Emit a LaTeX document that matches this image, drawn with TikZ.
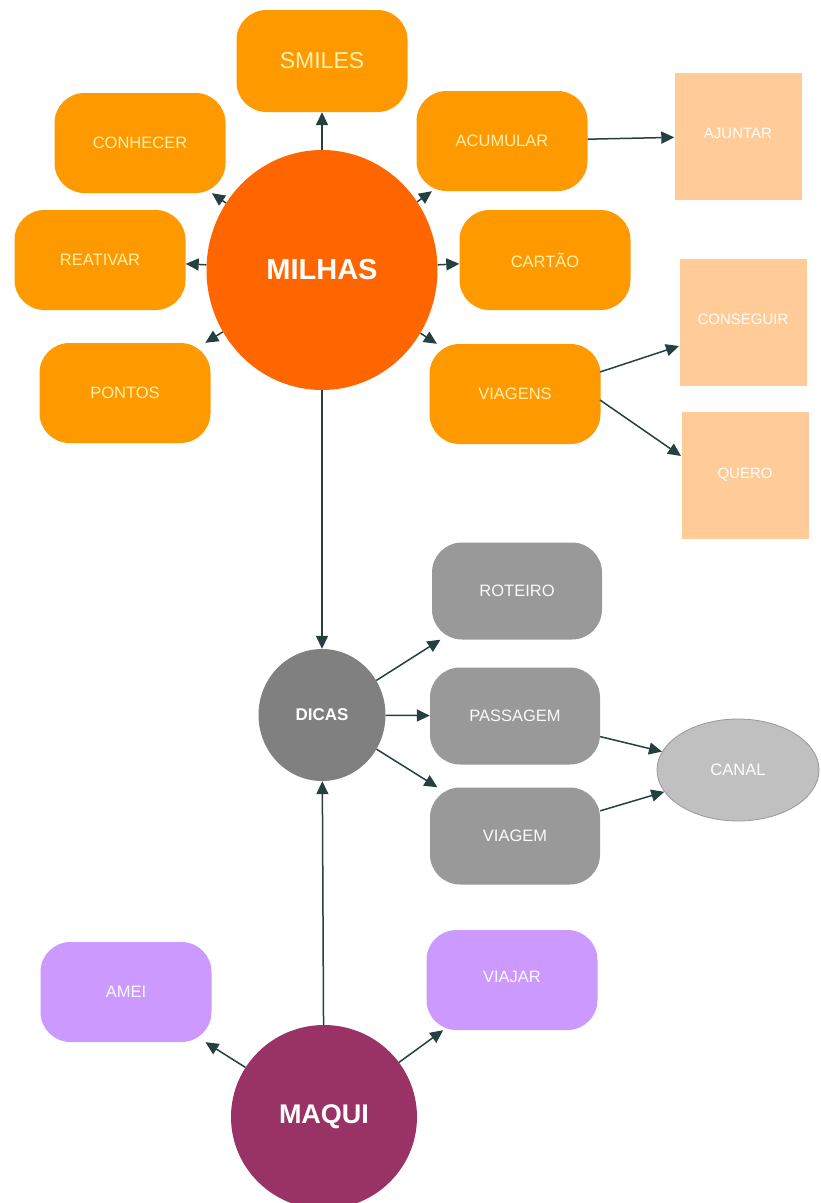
\documentclass[tikz,border=0pt]{standalone}
\usepackage{fontspec}
\setmainfont{Liberation Sans}
\usetikzlibrary{arrows.meta,shapes.geometric}
\definecolor{orangeA}{HTML}{FF9900}
\definecolor{orangeB}{HTML}{FF6600}
\definecolor{peach}{HTML}{FFCC99}
\definecolor{paleY}{HTML}{FFF0B0}
\definecolor{grayA}{HTML}{999999}
\definecolor{grayB}{HTML}{808080}
\definecolor{grayC}{HTML}{C0C0C0}
\definecolor{lilac}{HTML}{CC99FF}
\definecolor{wine}{HTML}{993366}
\definecolor{arrowc}{HTML}{24403F}
\begin{document}
\begin{tikzpicture}[x=1pt,y=-1pt,
  obox/.style={rectangle, rounded corners=30pt, fill=orangeA, minimum width=171pt, minimum height=100pt, inner sep=0pt, text=paleY, font=\fontsize{16.5}{19}\selectfont},
  pbox/.style={rectangle, fill=peach, minimum width=127pt, minimum height=127pt, inner sep=0pt, text=white!96!peach, font=\fontsize{15}{18}\selectfont},
  gbox/.style={rectangle, rounded corners=30pt, fill=grayA, minimum width=170pt, minimum height=97pt, inner sep=0pt, text=white!95!grayA, font=\fontsize{16.5}{19}\selectfont},
  vbox/.style={rectangle, rounded corners=30pt, fill=lilac, minimum width=171pt, minimum height=100pt, inner sep=0pt, text=white!95!lilac, font=\fontsize{16.5}{19}\selectfont},
  conn/.style={draw=arrowc, line width=1.5pt, -{Triangle[length=13pt,width=12pt]}}
]
\useasboundingbox (0,0) rectangle (820,1203);
\clip (0,0) rectangle (820,1203);
\fill[white] (0,0) rectangle (820,1203);

% MILHAS cluster
\node[ellipse, fill=orangeB, minimum width=231pt, minimum height=240pt, inner sep=0pt, text=white, font=\bfseries\fontsize{29}{34}\selectfont] (milhas) at (322,270) {MILHAS};
\node[obox, font=\fontsize{23}{27}\selectfont, minimum height=102pt] (smiles) at (322,61) {SMILES};
\node[obox] (conhecer) at (140,143) {CONHECER};
\node[obox] (acumular) at (502,141) {ACUMULAR};
\node[obox] (reativar) at (100,260) {REATIVAR};
\node[obox] (cartao) at (545,260) {CARTÃO};
\node[obox] (pontos) at (125,393) {PONTOS};
\node[obox] (viagens) at (515,394) {VIAGENS};
\node[pbox] (ajuntar) at (738,136) {\raisebox{6pt}{AJUNTAR}};
\node[pbox] (conseguir) at (743,322) {\raisebox{6pt}{CONSEGUIR}};
\node[pbox] (quero) at (745,475) {QUERO};

\coordinate (v1) at (600,372);
\coordinate (v2) at (600,400);
\coordinate (c1) at (679,346);
\coordinate (q1) at (681,456);

\draw[conn] (milhas) -- (smiles);
\draw[conn] (milhas) -- (conhecer);
\draw[conn] (milhas) -- (acumular);
\draw[conn] (milhas) -- (reativar);
\draw[conn] (milhas) -- (cartao);
\draw[conn] (milhas) -- (pontos);
\draw[conn] (milhas) -- (viagens);
\draw[conn] (acumular) -- (ajuntar);
\draw[conn] (v1) -- (c1);
\draw[conn] (v2) -- (q1);

% DICAS cluster
\node[ellipse, fill=grayB, minimum width=127pt, minimum height=132pt, inner sep=0pt, text=white, font=\bfseries\fontsize{17}{20}\selectfont] (dicas) at (322,715) {DICAS};
\node[gbox] (roteiro) at (517,591) {ROTEIRO};
\node[gbox] (passagem) at (515,716) {PASSAGEM};
\node[gbox] (viagem) at (515,836) {VIAGEM};
\node[ellipse, fill=grayC, draw=grayA, line width=0.8pt, minimum width=162pt, minimum height=102pt, inner sep=0pt, text=white, font=\fontsize{16.5}{19}\selectfont] (canal) at (738,770) {CANAL};

\draw[conn] (milhas) -- (dicas);
\draw[conn] (dicas) -- (roteiro);
\draw[conn] (dicas) -- (passagem);
\draw[conn] (dicas) -- (viagem);
\draw[conn] (passagem) -- (canal);
\draw[conn] (viagem) -- (canal);

% MAQUI cluster
\node[ellipse, fill=wine, minimum width=186pt, minimum height=184pt, inner sep=0pt, text=white, font=\bfseries\fontsize{27}{32}\selectfont] (maqui) at (324,1117) {MAQUI};
\node[vbox] (amei) at (126,992) {AMEI};
\node[vbox] (viajar) at (512,980) {\raisebox{6pt}{VIAJAR}};

\draw[conn] (maqui) -- (dicas);
\draw[conn] (maqui) -- (amei);
\draw[conn] (maqui) -- (viajar);
\end{tikzpicture}
\end{document}
